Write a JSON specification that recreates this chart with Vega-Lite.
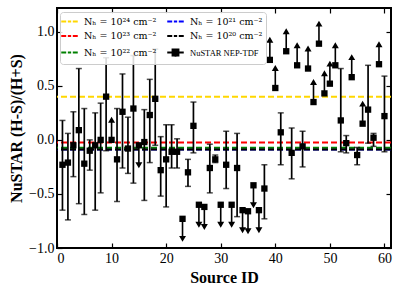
{
  "$schema": "https://vega.github.io/schema/vega-lite/v6.json",
  "width": 334,
  "height": 240,
  "autosize": {"type": "none"},
  "padding": {"left": 57, "top": 8, "right": 16, "bottom": 37},
  "config": {
    "view": {"stroke": "black", "strokeWidth": 2},
    "axis": {"labelFont": "Liberation Serif", "titleFont": "Liberation Serif", "labelColor": "black", "titleColor": "black", "tickColor": "black", "grid": false, "domain": false}
  },
  "datasets": {
    "nh": [
      {"label": "Nₕ = 10²¹ cm⁻²", "y": -0.09},
      {"label": "Nₕ = 10²⁴ cm⁻²", "y": 0.40},
      {"label": "Nₕ = 10²³ cm⁻²", "y": -0.025},
      {"label": "Nₕ = 10²² cm⁻²", "y": -0.072},
      {"label": "Nₕ = 10²⁰ cm⁻²", "y": -0.09}
    ],
    "src": [
      {"id": 1, "v": -0.23, "lo": -0.65, "hi": 0.18, "type": "m"},
      {"id": 2, "v": -0.21, "lo": -0.74, "hi": 0.06, "type": "m"},
      {"id": 3, "v": -0.05, "lo": -0.34, "hi": 0.26, "type": "m"},
      {"id": 4, "v": 0.09, "lo": -0.59, "hi": 0.66, "type": "m"},
      {"id": 5, "v": -0.22, "lo": -0.69, "hi": 0.29, "type": "m"},
      {"id": 6, "v": -0.10, "lo": -0.28, "hi": 0.0, "type": "m"},
      {"id": 7, "v": -0.05, "lo": -0.65, "hi": 0.25, "type": "m"},
      {"id": 8, "v": 0.0, "lo": -0.49, "hi": 0.34, "type": "m"},
      {"id": 9, "v": 0.40, "lo": -0.10, "hi": 0.76, "type": "m"},
      {"id": 10, "v": 0.0, "type": "up"},
      {"id": 11, "v": -0.18, "lo": -0.57, "hi": 0.29, "type": "m"},
      {"id": 12, "v": 0.26, "lo": -0.26, "hi": 0.61, "type": "m"},
      {"id": 13, "v": -0.08, "lo": -0.31, "hi": 0.21, "type": "m"},
      {"id": 14, "v": 0.29, "lo": -0.40, "hi": 0.78, "type": "m"},
      {"id": 15, "v": -0.05, "type": "down"},
      {"id": 16, "v": -0.02, "lo": -0.56, "hi": 0.28, "type": "m"},
      {"id": 17, "v": 0.23, "lo": -0.21, "hi": 0.56, "type": "m"},
      {"id": 18, "v": 0.38, "lo": -0.05, "hi": 0.84, "type": "m"},
      {"id": 19, "v": -0.28, "lo": -0.52, "hi": 0.03, "type": "m"},
      {"id": 20, "v": -0.18, "lo": -0.62, "hi": 0.14, "type": "m"},
      {"id": 21, "v": -0.11, "lo": -0.26, "hi": 0.14, "type": "m"},
      {"id": 22, "v": -0.11, "lo": -0.26, "hi": 0.01, "type": "m"},
      {"id": 23, "v": -0.73, "type": "down"},
      {"id": 24, "v": -0.30, "lo": -0.43, "hi": -0.18, "type": "m"},
      {"id": 25, "v": 0.13, "lo": -0.12, "hi": 0.35, "type": "m"},
      {"id": 26, "v": -0.60, "type": "down"},
      {"id": 27, "v": -0.62, "type": "down"},
      {"id": 28, "v": -0.26, "lo": -0.49, "hi": -0.04, "type": "m"},
      {"id": 29, "v": -0.18, "lo": -0.21, "hi": -0.14, "type": "m"},
      {"id": 30, "v": -0.60, "type": "down"},
      {"id": 31, "v": -0.23, "lo": -0.45, "hi": 0.08, "type": "m"},
      {"id": 32, "v": -0.60, "type": "down"},
      {"id": 33, "v": -0.26, "lo": -0.71, "hi": 0.06, "type": "m"},
      {"id": 34, "v": -0.65, "type": "down"},
      {"id": 35, "v": -0.66, "type": "down"},
      {"id": 36, "v": -0.42, "type": "down"},
      {"id": 37, "v": -0.65, "type": "down"},
      {"id": 38, "v": -0.45, "lo": -0.73, "hi": -0.23, "type": "m"},
      {"id": 39, "v": 0.74, "type": "up"},
      {"id": 40, "v": 0.48, "type": "up"},
      {"id": 41, "v": 0.07, "lo": -0.23, "hi": 0.25, "type": "m"},
      {"id": 42, "v": 0.82, "type": "up"},
      {"id": 43, "v": -0.12, "lo": -0.36, "hi": 0.11, "type": "m"},
      {"id": 44, "v": 0.69, "type": "up"},
      {"id": 45, "v": -0.06, "lo": -0.25, "hi": 0.08, "type": "m"},
      {"id": 46, "v": 0.66, "type": "up"},
      {"id": 47, "v": 0.35, "type": "up"},
      {"id": 48, "v": 0.89, "type": "up"},
      {"id": 49, "v": 0.43, "type": "up"},
      {"id": 50, "v": 0.52, "type": "up"},
      {"id": 51, "v": 0.69, "type": "up"},
      {"id": 52, "v": 0.18, "lo": -0.11, "hi": 0.66, "type": "m"},
      {"id": 53, "v": -0.03, "lo": -0.12, "hi": 0.04, "type": "m"},
      {"id": 54, "v": 0.58, "type": "up"},
      {"id": 55, "v": -0.14, "lo": -0.23, "hi": -0.07, "type": "m"},
      {"id": 56, "v": 0.15, "type": "up"},
      {"id": 57, "v": 0.28, "lo": -0.03, "hi": 0.69, "type": "m"},
      {"id": 58, "v": 0.02, "lo": -0.06, "hi": 0.06, "type": "m"},
      {"id": 59, "v": 0.70, "type": "up"},
      {"id": 60, "v": 0.22, "lo": -0.11, "hi": 0.59, "type": "m"}
    ]
  },
  "resolve": {"axis": {"x": "independent", "y": "independent"}},
  "layer": [
    {
      "data": {"name": "nh"},
      "mark": {"type": "rule", "strokeDash": [6, 3], "strokeWidth": 2},
      "encoding": {
        "y": {"field": "y", "type": "quantitative", "scale": {"domain": [-1, 1.22], "nice": false, "zero": false}, "axis": null},
        "color": {
          "field": "label", "type": "nominal",
          "scale": {
            "domain": ["Nₕ = 10²⁴ cm⁻²", "Nₕ = 10²³ cm⁻²", "Nₕ = 10²² cm⁻²", "Nₕ = 10²¹ cm⁻²", "Nₕ = 10²⁰ cm⁻²", "NuSTAR NEP-TDF"],
            "range": ["#FFD700", "#FF0000", "#008000", "#0000FF", "#000000", "#000000"]
          },
          "legend": {
            "orient": "none", "legendX": 3, "legendY": 4, "columns": 2, "title": null,
            "symbolSize": 121, "symbolStrokeWidth": 1.8,
            "labelFont": "DejaVu Serif", "labelFontSize": 9.5, "labelColor": "black", "labelOffset": 8,
            "columnPadding": 6, "rowPadding": 3.5, "padding": 3,
            "strokeColor": "#cccccc", "fillColor": "rgba(255,255,255,0.85)", "cornerRadius": 3,
            "encode": {
              "symbols": {"update": {
                "shape": {"signal": "datum.value === 'NuSTAR NEP-TDF' ? 'M-1.5,0H1.5M0,-0.75V0.75M-0.55,-0.55H0.55V0.55H-0.55Z' : 'M-1.5,0H-0.6M-0.3,0H0.3M0.6,0H1.5'"},
                "fill": {"signal": "datum.value === 'NuSTAR NEP-TDF' ? 'black' : 'transparent'"},
                "strokeDash": {"value": []},
                "opacity": {"value": 1}
              }},
              "labels": {"update": {
                "font": {"signal": "datum.value === 'NuSTAR NEP-TDF' ? 'Liberation Serif' : 'DejaVu Serif'"},
                "fontSize": {"signal": "datum.value === 'NuSTAR NEP-TDF' ? 8.5 : 9.5"}
              }}
            }
          }
        }
      }
    },
    {
      "data": {"name": "src"},
      "transform": [{"filter": "datum.type === 'm'"}],
      "mark": {"type": "rule", "color": "black", "strokeWidth": 1.7},
      "encoding": {
        "x": {"field": "id", "type": "quantitative", "scale": {"domain": [0, 61.2], "nice": false, "zero": false},
              "axis": {"orient": "top", "labels": false, "title": null, "values": [0, 10, 20, 30, 40, 50, 60], "tickSize": -5, "tickWidth": 1.2}},
        "y": {"field": "lo", "type": "quantitative", "scale": {"domain": [-1, 1.22], "nice": false, "zero": false},
              "axis": {"orient": "right", "labels": false, "title": null, "values": [-1, -0.5, 0, 0.5, 1], "tickSize": -5, "tickWidth": 1.2}},
        "y2": {"field": "hi"}
      }
    },
    {
      "data": {"name": "src"},
      "transform": [{"filter": "datum.type === 'm'"}],
      "mark": {"type": "tick", "orient": "horizontal", "color": "black", "size": 6, "thickness": 1.5},
      "encoding": {
        "x": {"field": "id", "type": "quantitative", "scale": {"domain": [0, 61.2], "nice": false, "zero": false}, "axis": null},
        "y": {"field": "lo", "type": "quantitative", "scale": {"domain": [-1, 1.22], "nice": false, "zero": false}, "axis": null}
      }
    },
    {
      "data": {"name": "src"},
      "transform": [{"filter": "datum.type === 'm'"}],
      "mark": {"type": "tick", "orient": "horizontal", "color": "black", "size": 6, "thickness": 1.5},
      "encoding": {
        "x": {"field": "id", "type": "quantitative", "scale": {"domain": [0, 61.2], "nice": false, "zero": false}, "axis": null},
        "y": {"field": "hi", "type": "quantitative", "scale": {"domain": [-1, 1.22], "nice": false, "zero": false}, "axis": null}
      }
    },
    {
      "data": {"name": "src"},
      "transform": [{"filter": "datum.type !== 'm'"}],
      "mark": {"type": "point", "filled": false, "fill": "black", "stroke": "black", "strokeWidth": 1.6, "opacity": 1, "size": 121},
      "encoding": {
        "x": {"field": "id", "type": "quantitative", "scale": {"domain": [0, 61.2], "nice": false, "zero": false}, "axis": null},
        "y": {"field": "v", "type": "quantitative", "scale": {"domain": [-1, 1.22], "nice": false, "zero": false}, "axis": null},
        "shape": {"field": "type", "type": "nominal", "legend": null,
                  "scale": {"domain": ["up", "down"], "range": ["M0,0V-3.3M-0.38,-3.25L0,-3.9L0.38,-3.25Z", "M0,0V3.3M-0.38,3.25L0,3.9L0.38,3.25Z"]}}
      }
    },
    {
      "data": {"name": "src"},
      "mark": {"type": "square", "color": "black", "opacity": 1, "size": 40},
      "encoding": {
        "x": {"field": "id", "type": "quantitative", "scale": {"domain": [0, 61.2], "nice": false, "zero": false},
              "axis": {"orient": "bottom", "title": "Source ID", "values": [0, 10, 20, 30, 40, 50, 60], "format": "d", "tickSize": -5, "tickWidth": 1.2,
                       "labelFontSize": 14, "labelPadding": 8, "titleFontSize": 16, "titleFontWeight": "bold", "titlePadding": 4}},
        "y": {"field": "v", "type": "quantitative", "scale": {"domain": [-1, 1.22], "nice": false, "zero": false},
              "axis": {"orient": "left", "title": "NuSTAR (H-S)/(H+S)", "values": [-1, -0.5, 0, 0.5, 1], "format": ".1f", "tickSize": -5, "tickWidth": 1.2,
                       "labelFontSize": 14, "labelPadding": 8, "titleFontSize": 16, "titleFontWeight": "bold", "titlePadding": 4}}
      }
    }
  ]
}
